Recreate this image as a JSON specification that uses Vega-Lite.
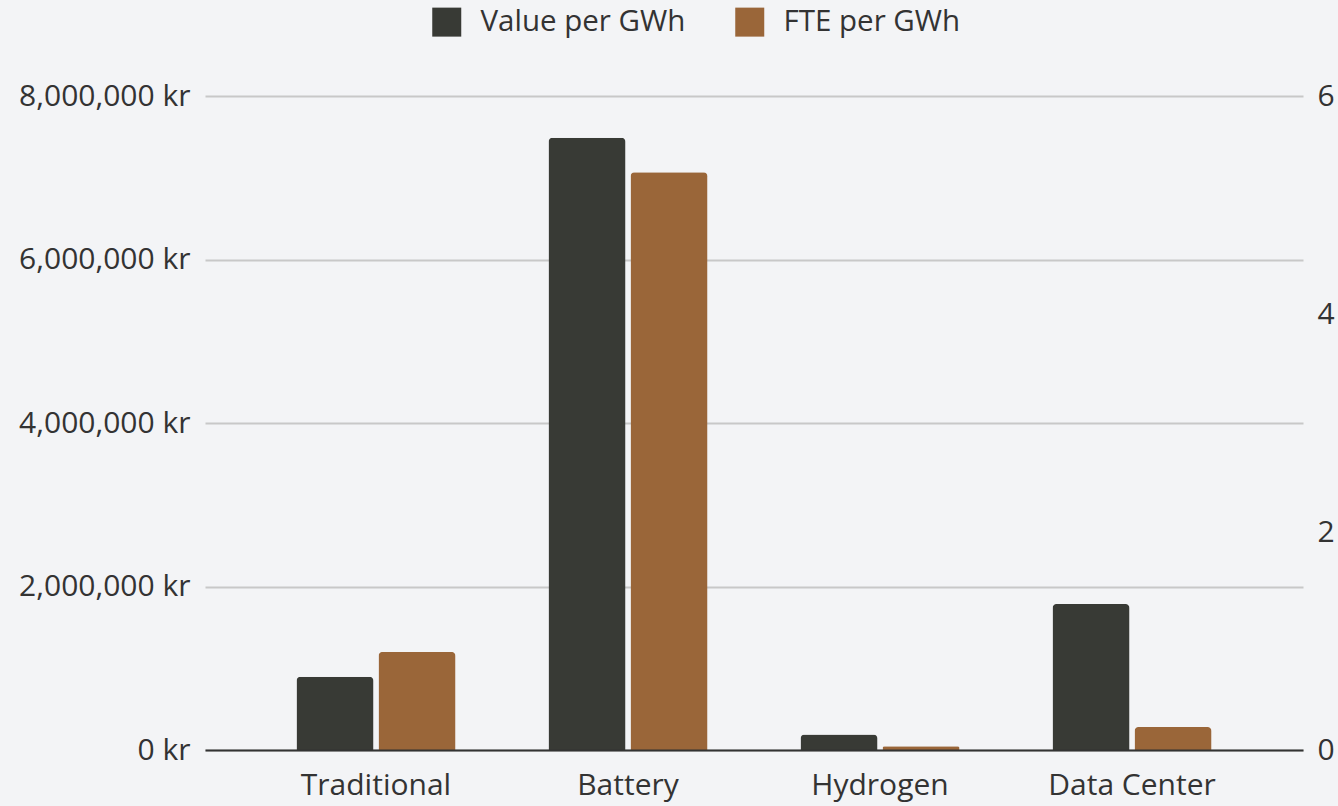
{
  "$schema": "https://vega.github.io/schema/vega-lite/v6.json",
  "width": 1098,
  "height": 654,
  "autosize": {"type": "none"},
  "padding": {"left": 205, "top": 96, "right": 35, "bottom": 56},
  "background": "#f3f4f6",
  "config": {
    "view": {"stroke": null},
    "font": "Open Sans",
    "axis": {"labelFont": "Open Sans", "labelColor": "#333333", "labelFontSize": 30}
  },
  "data": {
    "values": [
      {"category": "Traditional", "series": "Value per GWh", "value": 895000},
      {"category": "Traditional", "series": "FTE per GWh", "value": 0.9},
      {"category": "Battery", "series": "Value per GWh", "value": 7490000},
      {"category": "Battery", "series": "FTE per GWh", "value": 5.3},
      {"category": "Hydrogen", "series": "Value per GWh", "value": 190000},
      {"category": "Hydrogen", "series": "FTE per GWh", "value": 0.035},
      {"category": "Data Center", "series": "Value per GWh", "value": 1785000},
      {"category": "Data Center", "series": "FTE per GWh", "value": 0.21}
    ]
  },
  "encoding": {
    "x": {
      "field": "category",
      "type": "nominal",
      "sort": ["Traditional", "Battery", "Hydrogen", "Data Center"],
      "scale": {"paddingInner": 0.369, "paddingOuter": 0.363},
      "axis": {
        "title": null,
        "labelAngle": 0,
        "domain": true,
        "domainColor": "#333333",
        "domainWidth": 2,
        "ticks": false,
        "labelPadding": 20,
        "zindex": 1
      }
    },
    "xOffset": {
      "field": "series",
      "type": "nominal",
      "scale": {"domain": ["Value per GWh", "FTE per GWh"], "paddingInner": 0.061, "paddingOuter": 0}
    },
    "color": {
      "field": "series",
      "type": "nominal",
      "scale": {"domain": ["Value per GWh", "FTE per GWh"], "range": ["#383a35", "#9a6639"]},
      "legend": {
        "title": null,
        "orient": "none",
        "legendX": 227,
        "legendY": -89,
        "direction": "horizontal",
        "symbolType": "square",
        "symbolSize": 841,
        "symbolStrokeWidth": 0,
        "labelFontSize": 29.5,
        "labelFont": "Open Sans",
        "labelColor": "#333333",
        "labelLimit": 400,
        "labelOffset": 19,
        "columnPadding": 49
      }
    }
  },
  "layer": [
    {
      "transform": [{"filter": "datum.series === 'Value per GWh'"}],
      "mark": {"type": "bar", "cornerRadiusEnd": 4},
      "encoding": {
        "y": {
          "field": "value",
          "type": "quantitative",
          "scale": {"domain": [0, 8000000], "nice": false},
          "axis": {
            "title": null,
            "values": [0, 2000000, 4000000, 6000000, 8000000],
            "labelExpr": "format(datum.value, ',') + ' kr'",
            "grid": true,
            "gridColor": "#c8c8c8",
            "gridWidth": 2,
            "domain": false,
            "ticks": false,
            "labelPadding": 15
          }
        }
      }
    },
    {
      "transform": [{"filter": "datum.series === 'FTE per GWh'"}],
      "mark": {"type": "bar", "cornerRadiusEnd": 4},
      "encoding": {
        "y": {
          "field": "value",
          "type": "quantitative",
          "scale": {"domain": [0, 6], "nice": false},
          "axis": {
            "title": null,
            "orient": "right",
            "values": [0, 2, 4, 6],
            "grid": false,
            "domain": false,
            "ticks": false,
            "labelPadding": 14
          }
        }
      }
    }
  ],
  "resolve": {"scale": {"y": "independent"}}
}
